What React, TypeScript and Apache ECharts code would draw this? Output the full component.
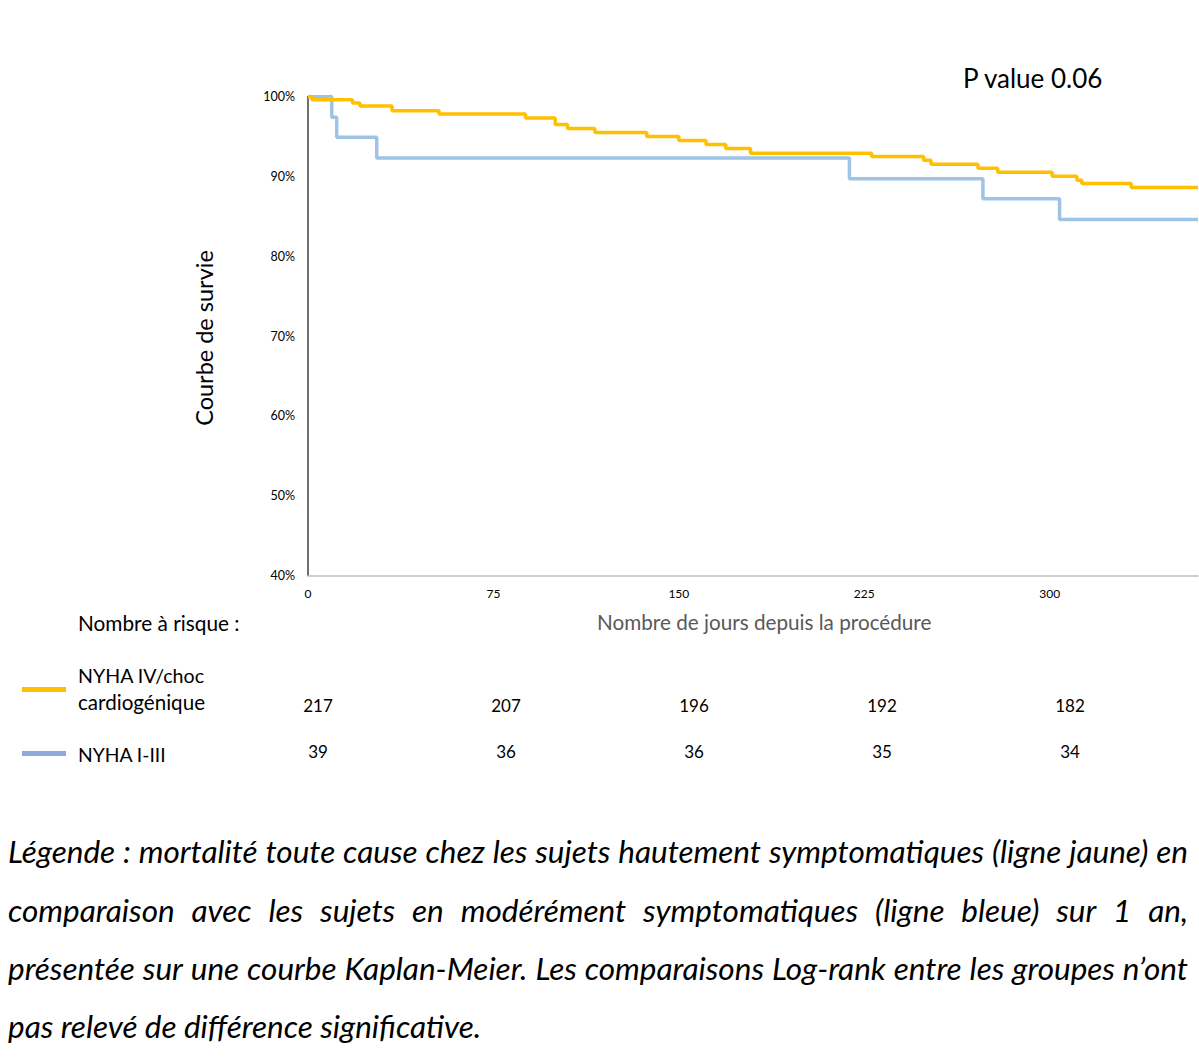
import React, { useEffect, useRef } from "react";
import * as echarts from "echarts";

// ---- data ----
const yellowDays = [0, 1.6, 18, 21, 34, 53, 88, 100, 105, 116, 137, 150, 161, 169, 179, 228, 249, 252, 271, 279, 301, 311, 313, 333, 360];
const yellowSurv = [100, 99.6, 99.2, 98.8, 98.2, 97.8, 97.3, 96.5, 96.0, 95.5, 95.0, 94.5, 94.0, 93.5, 92.9, 92.5, 92.0, 91.5, 91.0, 90.5, 90.0, 89.5, 89.1, 88.6, 88.6];
const blueDays = [0, 9.6, 11.6, 27.8, 219, 273, 304, 360];
const blueSurv = [100, 97.4, 94.9, 92.3, 89.7, 87.2, 84.6, 84.6];

const riskYellow = [217, 207, 196, 192, 182];
const riskBlue = [39, 36, 36, 35, 34];

const seriesNames = ["NYHA IV/choc cardiogénique", "NYHA I-III"];
const pValueText = "P value 0.06";
const yTitle = "Courbe de survie";
const xTitle = "Nombre de jours depuis la procédure";
const riskTitle = "Nombre à risque :";

const captionLines = [
  "Légende : mortalité toute cause chez les sujets hautement symptomatiques (ligne jaune) en",
  "comparaison avec les sujets en modérément symptomatiques (ligne bleue) sur 1 an,",
  "présentée sur une courbe Kaplan-Meier. Les comparaisons Log-rank entre les groupes n’ont",
  "pas relevé de différence significative.",
];

const YELLOW = "#FFC000";
const BLUE = "#9DC3E6";
const BLUE_LEG = "#8EA9DB";
const FONT = "Lato";

function txt(text: string, x: number, y: number, size: number, extra: any = {}) {
  return {
    type: "text",
    x,
    y,
    silent: true,
    ...(extra.rotation !== undefined ? { rotation: extra.rotation } : {}),
    style: {
      text,
      fill: extra.fill || "#000",
      fontSize: size,
      fontFamily: FONT,
      fontStyle: extra.fontStyle || "normal",
      align: extra.align || "left",
      verticalAlign: "middle",
      textAlign: extra.align || "left",
      textVerticalAlign: "middle",
    },
  };
}

function buildCaption(): any[] {
  const canvas = document.createElement("canvas");
  const ctx = canvas.getContext("2d")!;
  const left = 8;
  const width = 1180;
  const measure = (s: string, size: number) => {
    ctx.font = `italic ${size}px ${FONT}`;
    return ctx.measureText(s).width;
  };
  const base = 100;
  const s1 = (width / measure(captionLines[0], base)) * base;
  const s3 = (width / measure(captionLines[2], base)) * base;
  const size = Math.min(s1, s3) * 0.995;
  const ys = [851, 910, 968, 1026];
  const out: any[] = [];
  captionLines.forEach((line, i) => {
    if (i === captionLines.length - 1) {
      out.push(txt(line, left, ys[i], size, { fontStyle: "italic" }));
      return;
    }
    const words = line.split(" ");
    const widths = words.map((w) => measure(w, size));
    const total = widths.reduce((a, b) => a + b, 0);
    const gap = (width - total) / (words.length - 1);
    let x = left;
    words.forEach((w, j) => {
      out.push(txt(w, x, ys[i], size, { fontStyle: "italic" }));
      x += widths[j] + gap;
    });
  });
  return out;
}

export default function App() {
  const ref = useRef<HTMLDivElement>(null);
  useEffect(() => {
    const chart = echarts.init(ref.current!, null, { renderer: "svg" });
    const graphics: any[] = [];
    graphics.push(txt(pValueText, 963, 78, 26));
    graphics.push(txt(yTitle, 204, 338, 23.5, { rotation: Math.PI / 2, align: "center" }));
    graphics.push(txt(riskTitle, 78, 622, 20.8));
    graphics.push(txt(xTitle, 597, 622, 20.7, { fill: "#595959" }));
    graphics.push(txt("NYHA IV/choc", 78, 675, 19.6));
    graphics.push(txt("cardiogénique", 78, 702, 20.6));
    graphics.push(txt("NYHA I-III", 78, 754, 19.3));
    graphics.push({ type: "rect", shape: { x: 22, y: 687, width: 44, height: 5 }, style: { fill: YELLOW }, silent: true });
    graphics.push({ type: "rect", shape: { x: 22, y: 751, width: 44, height: 5 }, style: { fill: BLUE_LEG }, silent: true });
    riskYellow.forEach((v, i) => graphics.push(txt(String(v), 318 + i * 188, 705, 17, { align: "center" })));
    riskBlue.forEach((v, i) => graphics.push(txt(String(v), 318 + i * 188, 751, 17, { align: "center" })));
    graphics.push(...buildCaption());

    const option: any = {
      animation: false,
      backgroundColor: "#fff",
      textStyle: { fontFamily: FONT },
      grid: { left: 308, top: 96.5, right: 1, bottom: 485.5, containLabel: false },
      xAxis: {
        type: "value",
        min: 0,
        max: 360,
        interval: 75,
        axisLine: { show: true, lineStyle: { color: "#c0c0c0", width: 1.5 } },
        axisTick: { show: false },
        splitLine: { show: false },
        axisLabel: {
          color: "#000",
          fontSize: 12,
          margin: 12,
          showMaxLabel: false,
          formatter: (v: number) => (v % 75 === 0 ? String(v) : ""),
        },
      },
      yAxis: {
        type: "value",
        min: 40,
        max: 100,
        interval: 10,
        axisLine: { show: true, lineStyle: { color: "#404040", width: 1.5 } },
        axisTick: { show: false },
        splitLine: { show: false },
        axisLabel: { color: "#000", fontSize: 12.5, margin: 13, formatter: "{value}%" },
      },
      series: [
        {
          name: seriesNames[0],
          type: "line",
          step: "end",
          showSymbol: false,
          lineStyle: { color: YELLOW, width: 3.5 },
          data: yellowDays.map((d, i) => [d, yellowSurv[i]]),
          z: 3,
        },
        {
          name: seriesNames[1],
          type: "line",
          step: "end",
          showSymbol: false,
          lineStyle: { color: BLUE, width: 3.5 },
          data: blueDays.map((d, i) => [d, blueSurv[i]]),
          z: 2,
        },
      ],
      graphic: graphics,
    };
    chart.setOption(option);
    return () => chart.dispose();
  }, []);
  return <div ref={ref} style={{ position: "absolute", left: 0, top: 0, width: 1199, height: 1061 }} />;
}
